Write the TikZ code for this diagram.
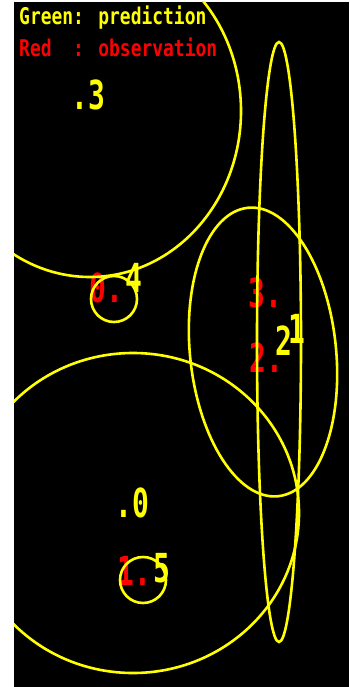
\documentclass[tikz,border=0pt]{standalone}
\usepackage{fontspec}
\newfontfamily\cvfont{DejaVu Sans Mono}
\definecolor{cvyellow}{RGB}{255,255,0}
\definecolor{cvred}{RGB}{255,0,0}
\newcommand{\cvdigits}[1]{\scalebox{0.7}[1]{\fontsize{40}{40}\selectfont\bfseries #1}}
\newcommand{\cvlegend}[1]{\scalebox{0.78}[1]{\fontsize{23}{23}\selectfont\bfseries #1}}

\begin{document}
\begin{tikzpicture}[
    x=1pt, y=-1pt,
    pred/.style={
        inner sep=0pt,
        anchor=base west,
        font=\cvfont,
        text=cvyellow
    },
    obs/.style={
        inner sep=0pt,
        anchor=base west,
        font=\cvfont,
        text=cvred
    },
    track/.style={
        draw=cvyellow,
        line width=2.6pt
    }
]
\useasboundingbox (0,0) rectangle (349,687);
\fill[white] (0,0) rectangle (349,687);
\fill[black] (14,2) rectangle (349,687);

\node[obs] (obs0) at (89,302) {\cvdigits{0.}};
\node[obs] (obs1) at (117.5,585) {\cvdigits{1.}};
\node[obs] (obs2) at (249,372) {\cvdigits{2.}};
\node[obs] (obs3) at (248,307) {\cvdigits{3.}};

\begin{scope}
\clip (14,2) rectangle (349,687);
\draw[track] (90,111) ellipse [x radius=151, y radius=166];
\draw[track] (114,299) circle [radius=23];
\draw[track, rotate around={6:(263,352)}] (263,352) ellipse [x radius=73, y radius=145];
\draw[track] (279,342) ellipse [x radius=22, y radius=300];
\draw[track] (133,513) ellipse [x radius=166, y radius=160];
\draw[track] (143,580) circle [radius=23];
\end{scope}

\node[pred] (pred3) at (71.5,110) {\cvdigits{.3}};
\node[pred] (pred4) at (125,292) {\cvdigits{4}};
\node[pred] (pred2) at (275,355) {\cvdigits{2}};
\node[pred] (pred1) at (288,343) {\cvdigits{1}};
\node[pred] (pred0) at (115.5,517) {\cvdigits{.0}};
\node[pred] (pred5) at (153,582) {\cvdigits{5}};

\node[pred] (legpred) at (19,25) {\cvlegend{Green: prediction}};
\node[obs] (legobs) at (19,57) {\cvlegend{Red\ \ : observation}};
\end{tikzpicture}
\end{document}
